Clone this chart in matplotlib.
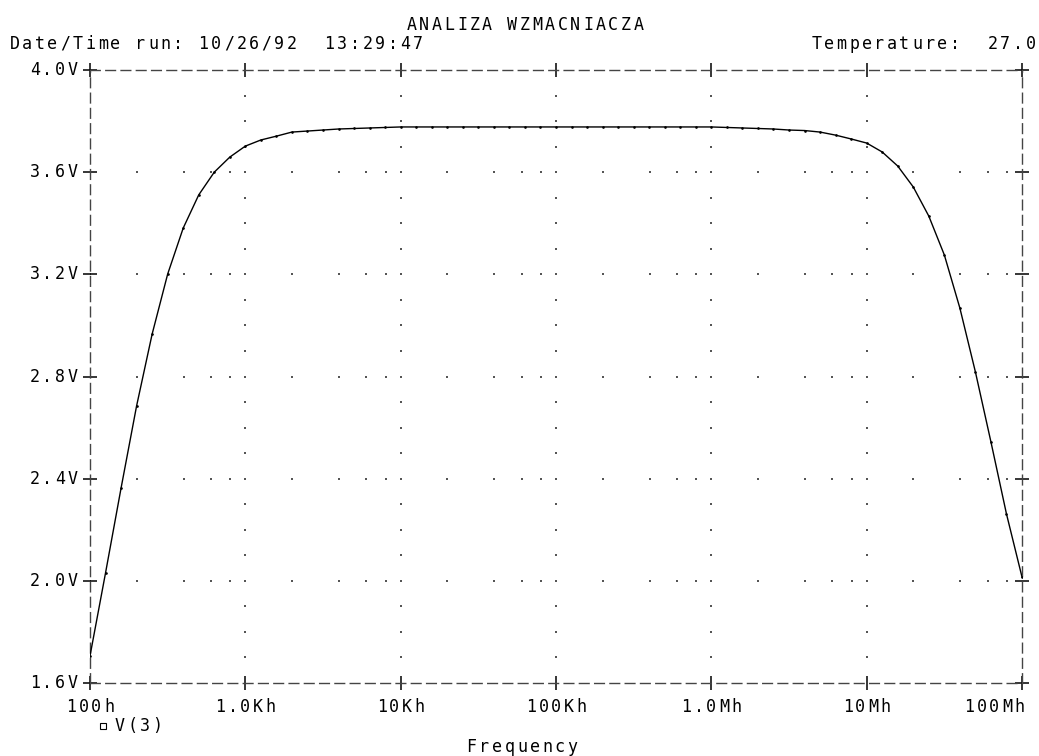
import numpy as np
import matplotlib
matplotlib.use('Agg')
import matplotlib.pyplot as plt
from matplotlib.lines import Line2D

# AC sweep: 100 Hz .. 100 MHz, 10 points per decade
freq = 100.0 * 10 ** (np.arange(61) / 10.0)

# V(3), in volts
v3 = [1.706, 2.031, 2.363, 2.685, 2.966, 3.201, 3.381, 3.511, 3.600, 3.659,
      3.702, 3.726, 3.741, 3.757, 3.761, 3.765, 3.769, 3.771, 3.773, 3.775,
      3.777, 3.777, 3.777, 3.777, 3.777, 3.777, 3.777, 3.777, 3.777, 3.777,
      3.777, 3.777, 3.777, 3.777, 3.777, 3.777, 3.777, 3.777, 3.777, 3.777,
      3.777, 3.775, 3.773, 3.771, 3.769, 3.765, 3.763, 3.757, 3.745, 3.730,
      3.714, 3.679, 3.624, 3.542, 3.428, 3.276, 3.068, 2.818, 2.544, 2.262,
      2.015]

x_ticks = [1e2, 1e3, 1e4, 1e5, 1e6, 1e7, 1e8]
x_labels = ['100h', '1.0Kh', '10Kh', '100Kh', '1.0Mh', '10Mh', '100Mh']
y_ticks = [1.6, 2.0, 2.4, 2.8, 3.2, 3.6, 4.0]
y_labels = ['1.6V', '2.0V', '2.4V', '2.8V', '3.2V', '3.6V', '4.0V']

W, H = 1039, 756
FONT = 'DejaVu Sans Mono'
ADV = 12.6      # character cell, px (plotter font is fixed pitch)
GLYPH = 9.0     # visible glyph width inside a cell, px

fig = plt.figure(figsize=(W / 100, H / 100), dpi=100)


def mono_text(x, y, s, ha='left', size=12):
    """Fixed-pitch text, x/y in pixels from top-left."""
    width = (len(s) - 1) * ADV + GLYPH
    if ha == 'center':
        x = x - width / 2
    elif ha == 'right':
        x = x - width
    for i, ch in enumerate(s):
        if ch == ' ':
            continue
        cx = x + i * ADV + GLYPH / 2
        fig.text(cx / W, 1 - y / H, ch, ha='center', va='center',
                 family=FONT, fontsize=size, color='black')


ax = fig.add_axes([90 / W, 73 / H, (1022 - 90) / W, (683 - 70) / H])
ax.set_xscale('log')
ax.set_xlim(1e2, 1e8)
ax.set_ylim(1.6, 4.0)

# dotted grid: dots along horizontal lines at 1,2,4,6,8 per decade
dot_kw = dict(s=2.5, marker='s', color='#555555', linewidths=0, zorder=1)
for y in y_ticks[1:-1]:
    xs = [d * m for d in x_ticks[:-1] for m in (1, 2, 4, 6, 8)]
    ax.scatter(xs, [y] * len(xs), **dot_kw)
# dots along decade lines every 0.1 V
ys = np.round(np.arange(1.7, 4.0, 0.1), 2)
for x in x_ticks[1:-1]:
    ax.scatter([x] * len(ys), ys, **dot_kw)

ax.plot(freq, v3, color='black', lw=1.0, marker='.', ms=1.8, zorder=3)

for side in ax.spines.values():
    side.set_linestyle((0, (7, 4)))
    side.set_linewidth(1.0)
    side.set_color('#444444')

ax.set_xticks(x_ticks)
ax.xaxis.set_minor_locator(matplotlib.ticker.NullLocator())
ax.set_yticks(y_ticks)
ax.tick_params(which='major', direction='inout', length=10, width=1.1,
               top=True, right=True, labelbottom=False, labelleft=False)

# tick labels placed through the axes transform
for xv, lab in zip(x_ticks, x_labels):
    px = ax.transData.transform((xv, 1.6))[0]
    if px + ((len(lab) - 1) * ADV + GLYPH) / 2 > 1024:
        mono_text(1024, 707, lab, ha='right')
    else:
        mono_text(px, 707, lab, ha='center')
for yv, lab in zip(y_ticks, y_labels):
    py = H - ax.transData.transform((100, yv))[1]
    mono_text(77, py, lab, ha='right')

mono_text(407, 25, 'ANALIZA WZMACNIACZA')
mono_text(10, 44, 'Date/Time run: 10/26/92  13:29:47')
mono_text(1035, 44, 'Temperature:  27.0', ha='right')
mono_text(522, 747, 'Frequency', ha='center')

# legend entry
fig.add_artist(Line2D([103 / W], [1 - 726 / H], marker='s', ms=5,
                      mfc='none', mec='black', mew=0.8, transform=fig.transFigure))
mono_text(115, 726, 'V(3)')

fig.savefig('out.png', dpi=100)
